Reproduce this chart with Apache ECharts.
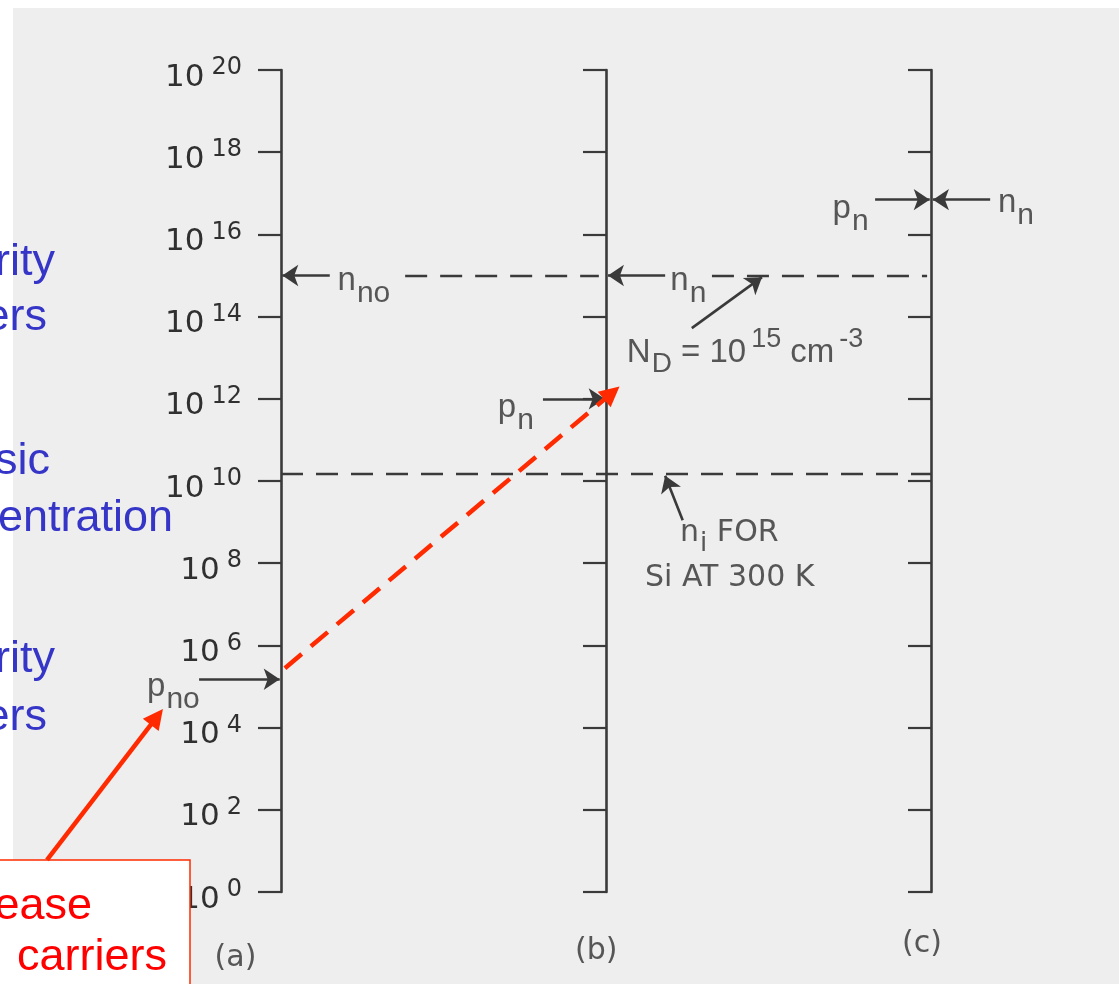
<!DOCTYPE html>
<html><head><meta charset="utf-8">
<script src="https://cdn.jsdelivr.net/npm/echarts@6/dist/echarts.min.js"></script>
<style>html,body{margin:0;padding:0;background:#fff}#c{width:1119px;height:984px}</style>
</head><body><div id="c"></div>
<script>
// ---- data (concentrations in cm^-3) ----
const tickExponents = [0, 2, 4, 6, 8, 10, 12, 14, 16, 18, 20];
const panelNames = ['(a)', '(b)', '(c)'];
const niSi = 1.5e10;      // intrinsic concentration, Si at 300 K
const ndDoping = 1e15;    // N_D = n_no
const pnoEquil = 1.5e5;   // p_no (equilibrium minority carriers)
const pnLowInj = 1e12;    // p_n in (b), low-level injection
const nnHighInj = 7e16;   // p_n = n_n in (c), high-level injection
const blueNotes = ['rity', 'ers', 'sic', 'entration', 'rity', 'ers'];
const redNotes = ['ease', 'carriers'];

// ---- layout ----
const L = Math.log10;
const axisColor = '#3a3a3a';
const inkColor = '#303030';
const gridW = 650;
const panelPos = [0, 50, 100];
const yMin = tickExponents[0], yMax = tickExponents[tickExponents.length - 1];

const chart = echarts.init(document.getElementById('c'));

const labelRich = {
  m: {fontFamily: 'Liberation Sans', fontSize: 33, color: inkColor, lineHeight: 30, verticalAlign: 'top'},
  sub: {fontFamily: 'Liberation Sans', fontSize: 30, color: inkColor, lineHeight: 22, padding: [14, 0, 0, 1], verticalAlign: 'top'},
  m2: {fontFamily: 'Liberation Sans', fontSize: 33, color: inkColor, lineHeight: 30, padding: [10, 0, 0, 0], verticalAlign: 'top'},
  sub2: {fontFamily: 'Liberation Sans', fontSize: 28, color: inkColor, lineHeight: 22, padding: [24, 0, 0, 1], verticalAlign: 'top'},
  sup: {fontFamily: 'Liberation Sans', fontSize: 27, color: inkColor, lineHeight: 22, padding: [0, 0, 0, 5], verticalAlign: 'top'},
  m3: {fontFamily: 'DejaVu Sans', fontSize: 30, color: inkColor, lineHeight: 30, verticalAlign: 'top'},
  sub3: {fontFamily: 'DejaVu Sans', fontSize: 26, color: inkColor, lineHeight: 22, padding: [13, 0, 0, 1], verticalAlign: 'top'},
  pn: {fontFamily: 'DejaVu Sans', fontSize: 30, color: inkColor}
};

const textMarks = [
  {x: 8.7, y: L(ndDoping), t: '{m|n}{sub|no}', pos: 'right', dy: 4},
  {x: 59.9, y: L(ndDoping), t: '{m|n}{sub|n}', pos: 'right', dy: 4},
  {x: 38.9, y: L(pnLowInj), t: '{m|p}{sub|n}', pos: 'left', dy: 8},
  {x: -12.5, y: L(pnoEquil), t: '{m|p}{sub|no}', pos: 'left', dy: 6},
  {x: 90.4, y: L(nnHighInj), t: '{m|p}{sub|n}', pos: 'left', dy: 8},
  {x: 110.3, y: L(nnHighInj), t: '{m|n}{sub|n}', pos: 'right', dy: 2},
  {x: 53.2, y: L(ndDoping) - 1.6, t: '{m2|N}{sub2|D}{m2| = 10}{sup|15}{m2| cm}{sup|-3}', pos: 'right', dy: 0},
  {x: 61.4, y: L(niSi) - 1.45, t: '{m3|n}{sub3|i}{m3| FOR}', pos: 'right', dy: 0},
  {x: 56.0, y: L(niSi) - 2.55, t: '{m3|Si AT 300 K}', pos: 'right', dy: 0},
  {x: -7.0, y: -1.6, t: '{pn|' + panelNames[0] + '}', pos: 'inside', dy: 0},
  {x: 48.5, y: -1.45, t: '{pn|' + panelNames[1] + '}', pos: 'inside', dy: 0},
  {x: 98.6, y: -1.28, t: '{pn|' + panelNames[2] + '}', pos: 'inside', dy: 0}
];

const blackArrows = [
  [[7.5, L(ndDoping)], [0.2, L(ndDoping)]],
  [[59.1, L(ndDoping)], [50.3, L(ndDoping)]],
  [[40.3, L(pnLowInj)], [49.8, L(pnLowInj)]],
  [[-12.6, L(pnoEquil)], [-0.2, L(pnoEquil)]],
  [[91.4, L(nnHighInj)], [99.8, L(nnHighInj)]],
  [[109.1, L(nnHighInj)], [100.3, L(nnHighInj)]],
  [[63.2, L(ndDoping) - 1.28], [74.0, L(ndDoping) - 0.04]],
  [[61.8, L(niSi) - 1.13], [59.1, L(niSi) - 0.05]]
];

const dashedRefs = [
  [[0, L(niSi)], [100, L(niSi)]],
  [[19.1, L(ndDoping)], [48.9, L(ndDoping)]],
  [[66.3, L(ndDoping)], [99.4, L(ndDoping)]]
];

const blueMid = [263, 318, 462, 519, 660, 718];
const blueRight = [55, 47, 50, 173, 55, 47];

const graphics = [
  {type: 'rect', shape: {x: 0, y: 0, width: 13, height: 984}, style: {fill: '#ffffff'}, z: 1},
  {type: 'rect', shape: {x: 0, y: 0, width: 1119, height: 8}, style: {fill: '#ffffff'}, z: 1}
];
blueNotes.forEach((t, i) => graphics.push({
  type: 'text', x: blueRight[i], y: blueMid[i], z: 50,
  style: {text: t, fill: '#3535c8', font: '45px "Liberation Sans"', textAlign: 'right', textVerticalAlign: 'middle'}
}));
graphics.push({type: 'rect', shape: {x: -2, y: 860, width: 192, height: 130}, style: {fill: '#ffffff', stroke: '#ff2a00', lineWidth: 1.5}, z: 50});
graphics.push({type: 'text', x: 92, y: 907, z: 51, style: {text: redNotes[0], fill: '#ff0000', font: '45px "Liberation Sans"', textAlign: 'right', textVerticalAlign: 'middle'}});
graphics.push({type: 'text', x: 167, y: 958, z: 51, style: {text: redNotes[1], fill: '#ff0000', font: '45px "Liberation Sans"', textAlign: 'right', textVerticalAlign: 'middle'}});

const option = {
  backgroundColor: '#eeeeee',
  animation: false,
  grid: {left: 281, right: 188, top: 70, bottom: 92, outerBoundsMode: 'none', containLabel: false},
  xAxis: {type: 'value', min: 0, max: 100, show: false},
  yAxis: panelPos.map((p, i) => ({
    type: 'value', min: yMin, max: yMax, interval: tickExponents[1] - tickExponents[0],
    position: 'left', offset: -p / 100 * gridW,
    axisLine: {show: true, onZero: false, lineStyle: {color: axisColor, width: 2.6}},
    axisTick: {show: true, length: 23, lineStyle: {color: axisColor, width: 2.2}},
    splitLine: {show: false},
    axisLabel: {
      show: i === 0, margin: 39,
      formatter: v => '{b|10}{s|' + v + '}',
      rich: {
        b: {fontFamily: 'DejaVu Sans', fontSize: 31, color: inkColor, lineHeight: 28, padding: [6, 0, 10, 0], verticalAlign: 'top'},
        s: {fontFamily: 'DejaVu Sans', fontSize: 24, color: inkColor, lineHeight: 20, padding: [0, 0, 0, 7], verticalAlign: 'top'}
      }
    }
  })),
  graphic: {elements: graphics},
  series: [
    {
      type: 'lines', coordinateSystem: 'cartesian2d', clip: false, silent: true, z: 3,
      symbol: ['none', 'none'],
      lineStyle: {color: axisColor, width: 2.3, type: [22, 13], opacity: 1},
      data: dashedRefs.map(c => ({coords: c}))
    },
    {
      type: 'lines', coordinateSystem: 'cartesian2d', clip: false, silent: true, z: 4,
      symbol: ['none', 'arrow'], symbolSize: 16,
      lineStyle: {color: axisColor, width: 2.6, opacity: 1},
      itemStyle: {color: axisColor},
      data: blackArrows.map(c => ({coords: c}))
    },
    {
      type: 'lines', coordinateSystem: 'cartesian2d', clip: false, silent: true, z: 60,
      symbol: ['none', 'triangle'], symbolSize: 20,
      lineStyle: {color: '#ff2a00', width: 4.5, type: [22, 12], opacity: 1},
      data: [{coords: [[0.6, L(pnoEquil) + 0.27], [50.9, L(pnLowInj) + 0.14]]}]
    },
    {
      type: 'lines', coordinateSystem: 'cartesian2d', clip: false, silent: true, z: 60,
      symbol: ['none', 'triangle'], symbolSize: 20,
      lineStyle: {color: '#ff2a00', width: 4.5, opacity: 1},
      data: [{coords: [[-36.0, 0.78], [-19.1, 4.26]]}]
    },
    {
      type: 'scatter', clip: false, silent: true, symbolSize: 0, z: 5,
      itemStyle: {color: 'rgba(0,0,0,0)'},
      label: {show: true, rich: labelRich, distance: 0},
      data: textMarks.map(m => ({
        value: [m.x, m.y],
        label: {show: true, position: m.pos, formatter: m.t, offset: [0, m.dy], distance: 0}
      }))
    }
  ]
};
chart.setOption(option);
</script>
</body></html>
